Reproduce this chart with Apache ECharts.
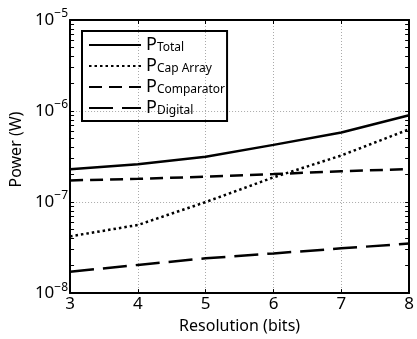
<!DOCTYPE html>
<html>
<head>
<meta charset="utf-8">
<script src="https://cdn.jsdelivr.net/npm/echarts@6/dist/echarts.min.js"></script>
<style>
  html, body { margin: 0; padding: 0; background: #fff; }
  #chart { width: 417px; height: 339px; }
</style>
</head>
<body>
<div id="chart"></div>
<script>
// 数据
const resolution = [3, 4, 5, 6, 7, 8];
const pTotal = [2.3e-7, 2.6e-7, 3.15e-7, 4.25e-7, 5.8e-7, 9.0e-7];
const pCapArray = [4.2e-8, 5.6e-8, 1.0e-7, 1.87e-7, 3.25e-7, 6.3e-7];
const pComparator = [1.73e-7, 1.8e-7, 1.9e-7, 2.03e-7, 2.18e-7, 2.3e-7];
const pDigital = [1.72e-8, 2.04e-8, 2.41e-8, 2.73e-8, 3.1e-8, 3.5e-8];

const decadeTicks = [1e-8, 1e-7, 1e-6, 1e-5];
const decadeExp = ['−8', '−7', '−6', '−5'];

// 对数轴的小刻度 (2..9 x 10^n)
const minorTicks = [];
[-8, -7, -6].forEach(function (e) {
  for (let k = 1; k < 10; k++) minorTicks.push(Number((k * Math.pow(10, e)).toPrecision(3)));
});
minorTicks.push(1e-5);

const FONT = 'Noto Sans';

const pairs = function (ys) {
  return resolution.map(function (x, i) { return [x, ys[i]]; });
};

const chart = echarts.init(document.getElementById('chart'));

const tickY = function (pos) {
  return {
    type: 'log', min: 1e-8, max: 1e-5, position: pos,
    axisLine: { show: false },
    axisLabel: { show: false },
    splitLine: { show: false },
    axisTick: { show: true, inside: true, length: 4, customValues: minorTicks, lineStyle: { color: '#000', width: 1 } }
  };
};

const option = {
  animation: false,
  textStyle: { fontFamily: FONT },
  grid: { left: 68, right: 1, top: 20, bottom: 44 },
  legend: {
    orient: 'vertical',
    left: 82, top: 31,
    borderColor: '#000', borderWidth: 2,
    padding: [5, 2, 4, 6],
    itemWidth: 52, itemHeight: 16, itemGap: 3,
    data: ['Total', 'Cap Array', 'Comparator', 'Digital'],
    formatter: function (name) { return '{p|P}{s|' + name + '}'; },
    itemStyle: { opacity: 0, borderWidth: 0 },
    textStyle: {
      color: '#000',
      rich: {
        p: { fontSize: 18, fontFamily: FONT, color: '#000', lineHeight: 18 },
        s: { fontSize: 12, fontFamily: FONT, color: '#000', lineHeight: 14, padding: [6, 0, 0, 0] }
      }
    }
  },
  xAxis: [
    {
      type: 'value', min: 3, max: 8, interval: 1, position: 'bottom',
      name: 'Resolution (bits)', nameLocation: 'middle', nameGap: 22,
      nameTextStyle: { fontSize: 16, color: '#000', fontFamily: FONT },
      axisLine: { lineStyle: { color: '#000', width: 2 } },
      axisTick: { inside: true, length: 4, lineStyle: { color: '#000', width: 1 } },
      axisLabel: { fontSize: 17, color: '#000', margin: 3, fontFamily: FONT },
      splitLine: { show: true, lineStyle: { color: '#aaa', type: [1, 2], width: 1 } }
    },
    {
      type: 'value', min: 3, max: 8, interval: 1, position: 'top',
      axisLine: { lineStyle: { color: '#000', width: 2 } },
      axisTick: { inside: true, length: 4, lineStyle: { color: '#000', width: 1 } },
      axisLabel: { show: false },
      splitLine: { show: false }
    }
  ],
  yAxis: [
    {
      type: 'log', min: 1e-8, max: 1e-5, position: 'left',
      name: 'Power (W)', nameLocation: 'middle', nameGap: 36, nameRotate: 90,
      nameTextStyle: { fontSize: 16, color: '#000', fontFamily: FONT, padding: [0, 0, 0, 14] },
      axisLine: { show: true, lineStyle: { color: '#000', width: 2 } },
      axisTick: { show: false },
      axisLabel: {
        margin: 2,
        customValues: decadeTicks,
        formatter: function (v) {
          const i = decadeTicks.findIndex(function (d) { return Math.abs(Math.log10(d) - Math.log10(v)) < 1e-6; });
          return '{b|10}{e|' + decadeExp[i] + '}';
        },
        rich: {
          b: { fontSize: 17, color: '#000', fontFamily: FONT },
          e: { fontSize: 12, color: '#000', fontFamily: FONT, padding: [0, 0, 12, 0] }
        }
      },
      splitLine: { show: true, lineStyle: { color: '#aaa', type: [1, 2], width: 1 } }
    },
    tickY('left'),
    Object.assign(tickY('right'), { axisLine: { show: true, lineStyle: { color: '#000', width: 2 } } })
  ],
  series: [
    { name: 'Total', type: 'line', data: pairs(pTotal), symbol: 'none', itemStyle: { color: '#000' },
      lineStyle: { color: '#000', width: 2.5, type: 'solid' } },
    { name: 'Cap Array', type: 'line', data: pairs(pCapArray), symbol: 'none', itemStyle: { color: '#000' },
      lineStyle: { color: '#000', width: 2.5, type: [2.5, 3] } },
    { name: 'Comparator', type: 'line', data: pairs(pComparator), symbol: 'none', itemStyle: { color: '#000' },
      lineStyle: { color: '#000', width: 2.5, type: [13, 7] } },
    { name: 'Digital', type: 'line', data: pairs(pDigital), symbol: 'none', itemStyle: { color: '#000' },
      lineStyle: { color: '#000', width: 2.5, type: [24, 9] } }
  ]
};

chart.setOption(option);
</script>
</body>
</html>
